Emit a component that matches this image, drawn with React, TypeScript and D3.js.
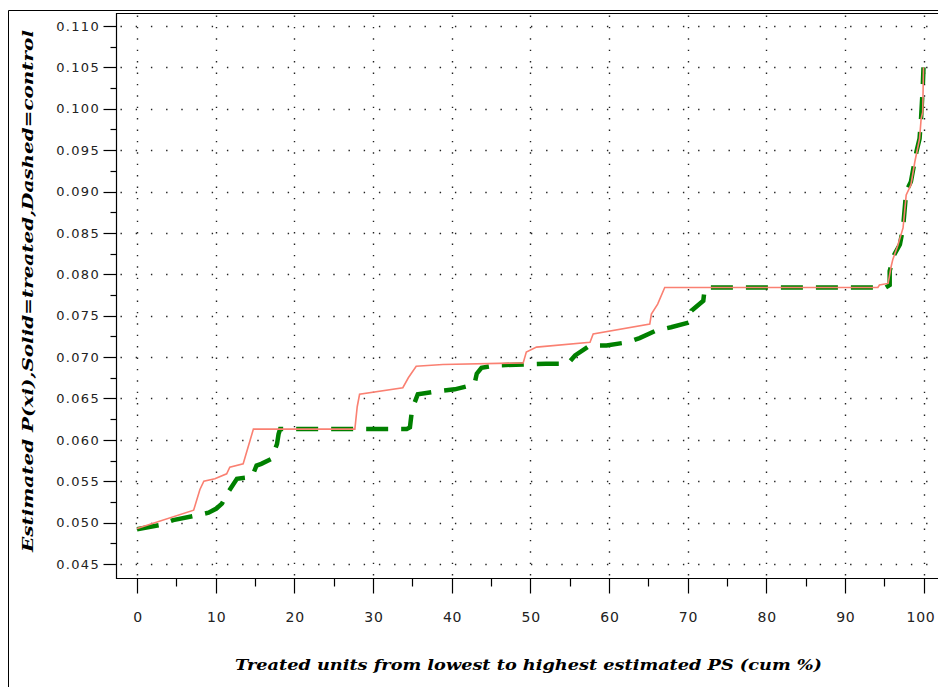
import React from 'react';
import * as d3 from 'd3';

// treated units (solid) - cumulative % vs estimated P(xi)
const treatedX = [0, 7.2, 8.0, 8.5, 9.9, 11.4, 11.8, 13.5, 14.4, 14.8, 27.7, 28.0, 28.3, 33.8, 34.5, 35.5, 38.9, 49.1, 49.5, 50.8, 57.6, 58.0, 65.2, 65.4, 66.2, 67.1, 94.2, 94.4, 95.5, 95.9, 96.1, 96.7, 97.4, 97.8, 98.4, 98.9, 99.5, 99.7, 99.9, 100];
const treatedY = [0.0493, 0.0515, 0.0540, 0.0550, 0.0553, 0.0559, 0.0567, 0.0571, 0.0600, 0.0613, 0.0613, 0.0640, 0.0655, 0.0663, 0.0675, 0.0689, 0.0691, 0.0693, 0.0706, 0.0712, 0.0718, 0.0728, 0.0740, 0.0752, 0.0764, 0.0784, 0.0784, 0.0787, 0.0789, 0.0810, 0.0818, 0.0834, 0.0856, 0.0896, 0.0908, 0.0936, 0.0964, 0.0988, 0.0996, 0.1050];

// control units (dashed)
const controlX = [0, 2.9, 4.6, 7.2, 9.1, 10.1, 10.8, 11.6, 12.7, 14.6, 15.2, 15.8, 17.1, 17.8, 18.0, 18.2, 34.3, 34.7, 34.9, 35.3, 35.7, 38.5, 40.4, 42.9, 43.2, 43.8, 45.5, 52.0, 54.8, 55.7, 57.6, 59.7, 62.4, 63.9, 66.0, 67.9, 70.3, 70.5, 72.0, 72.2, 95.2, 95.7, 95.7, 96.3, 97.0, 97.4, 97.8, 98.4, 99.1, 99.5, 99.7, 99.9, 100];
const controlY = [0.0492, 0.0497, 0.0503, 0.0508, 0.0512, 0.0517, 0.0523, 0.0537, 0.0553, 0.0555, 0.0569, 0.0571, 0.0577, 0.0595, 0.0607, 0.0613, 0.0613, 0.0615, 0.0631, 0.0645, 0.0655, 0.0659, 0.0661, 0.0667, 0.0680, 0.0687, 0.0690, 0.0692, 0.0692, 0.0702, 0.0714, 0.0714, 0.0718, 0.0723, 0.0732, 0.0736, 0.0742, 0.0756, 0.0768, 0.0784, 0.0784, 0.0787, 0.0804, 0.0824, 0.0836, 0.0856, 0.0900, 0.0912, 0.0948, 0.0964, 0.0990, 0.1025, 0.1050];

const xTicks = [0, 10, 20, 30, 40, 50, 60, 70, 80, 90, 100];
const xMinor = [5, 15, 25, 35, 45, 55, 65, 75, 85, 95];
const yTicks = [0.045, 0.050, 0.055, 0.060, 0.065, 0.070, 0.075, 0.080, 0.085, 0.090, 0.095, 0.100, 0.105, 0.110];
const yMinor = [0.0475, 0.0525, 0.0575, 0.0625, 0.0675, 0.0725, 0.0775, 0.0825, 0.0875, 0.0925, 0.0975, 0.1025, 0.1075];

const xTitle = 'Treated units from lowest to highest estimated PS (cum %)';
const yTitle = 'Estimated P(xi),Solid=treated,Dashed=control';

const W = 938;
const H = 687;
const left = 116.5;
const top = 13.5;
const bottom = 578.5;

const App = () => {
  const x = d3.scaleLinear().domain([0, 100]).range([137, 923.5]);
  const y = d3.scaleLinear().domain([0.045, 0.110]).range([564, 26]);

  const line = d3.line<[number, number]>()
    .x(d => x(d[0]))
    .y(d => y(d[1]));

  const treated = treatedX.map((v, i) => [v, treatedY[i]] as [number, number]);
  const control = controlX.map((v, i) => [v, controlY[i]] as [number, number]);

  const tickFont = { fontFamily: 'DejaVu Sans', fill: '#222' };
  const titleFont = { fontFamily: 'DejaVu Serif', fontStyle: 'italic', fontWeight: 'bold', fontSize: 15, fill: '#000' };

  return (
    <svg width={W} height={H} style={{ position: 'absolute', left: 0, top: 0, background: '#fff' }}>
      {/* outer frame */}
      <path d={`M8.5,${H + 5}V10.5H${W + 5}`} fill="none" stroke="#000" />
      {/* grid */}
      <g stroke="#222" strokeWidth={1.4}>
        {yTicks.map(t => (
          <line key={'gy' + t} x1={left + 4} x2={W} y1={Math.round(y(t)) + 0.5} y2={Math.round(y(t)) + 0.5} strokeDasharray="1.4,13.8" />
        ))}
        {xTicks.map(t => (
          <line key={'gx' + t} x1={Math.round(x(t)) + 0.5} x2={Math.round(x(t)) + 0.5} y1={top + 2} y2={bottom} strokeDasharray="1.4,10" />
        ))}
      </g>
      {/* plot frame + axes */}
      <path d={`M${W + 5},${top}H${left}V${bottom}H${W + 5}`} fill="none" stroke="#000" strokeWidth={1.2} />
      {/* ticks */}
      <g stroke="#000" strokeWidth={1.2}>
        {yTicks.map(t => (
          <line key={'ty' + t} x1={left - 13} x2={left} y1={Math.round(y(t)) + 0.5} y2={Math.round(y(t)) + 0.5} />
        ))}
        {yMinor.map(t => (
          <line key={'my' + t} x1={left - 6} x2={left} y1={Math.round(y(t)) + 0.5} y2={Math.round(y(t)) + 0.5} />
        ))}
        {xTicks.map(t => (
          <line key={'tx' + t} x1={Math.round(x(t)) + 0.5} x2={Math.round(x(t)) + 0.5} y1={bottom} y2={bottom + 15} />
        ))}
        {xMinor.map(t => (
          <line key={'mx' + t} x1={Math.round(x(t)) + 0.5} x2={Math.round(x(t)) + 0.5} y1={bottom} y2={bottom + 8} />
        ))}
      </g>
      {/* tick labels */}
      <g style={tickFont} fontSize={13} letterSpacing={1.3}>
        {yTicks.map(t => (
          <text key={'ly' + t} x={100} y={y(t)} dy="0.36em" textAnchor="end">{d3.format('.3f')(t)}</text>
        ))}
      </g>
      <g style={tickFont} fontSize={14} letterSpacing={0.8}>
        {xTicks.map(t => (
          <text key={'lx' + t} x={Math.min(x(t) + 1, 921)} y={622} textAnchor="middle">{t}</text>
        ))}
      </g>
      {/* series: dashed control under solid treated */}
      <path d={line(control) || ''} fill="none" stroke="#008000" strokeWidth={4.5} strokeDasharray="22,13" />
      <path d={line(treated) || ''} fill="none" stroke="#fa8072" strokeWidth={1.6} />
      {/* titles */}
      <text x={528.5} y={670} textAnchor="middle" style={titleFont} textLength={587} lengthAdjust="spacingAndGlyphs">{xTitle}</text>
      <text transform="translate(33,291) rotate(-90)" textAnchor="middle" style={titleFont} textLength={522} lengthAdjust="spacingAndGlyphs">{yTitle}</text>
    </svg>
  );
};

export default App;
